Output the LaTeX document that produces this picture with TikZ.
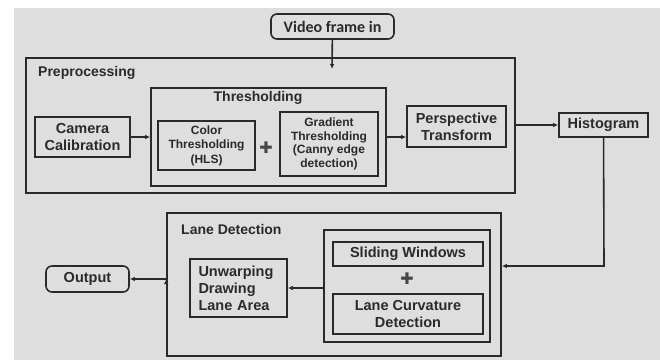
\documentclass[tikz,border=0pt]{standalone}
\usepackage{fontspec}
\setmainfont{Liberation Sans}
\newfontfamily\calfont{Carlito}
\newfontfamily\symfont{DejaVu Sans}
\usetikzlibrary{positioning, arrows.meta}
\definecolor{bggray}{HTML}{DEDEDE}
\definecolor{linegray}{HTML}{2A2A2A}

\begin{document}
\begin{tikzpicture}[x=1pt, y=-1pt, >={Latex[length=5pt,width=4.5pt]},
  box/.style={draw=linegray, line width=1.6pt, fill=bggray, inner sep=2pt, align=center, text=linegray},
  big/.style={font=\bfseries\fontsize{14.5}{17}\selectfont},
  small/.style={font=\bfseries\fontsize{12}{14.5}\selectfont},
  term/.style={box, rounded corners=6pt},
  title/.style={text=linegray, font=\bfseries\fontsize{14}{16}\selectfont, inner sep=0pt},
  plus/.style={text=gray!55!black, font=\symfont\fontsize{16}{16}\selectfont, inner sep=0pt},
  arr/.style={->, draw=linegray, line width=1.6pt}]

	\useasboundingbox (0,0) rectangle (660,360);
	\fill[white] (0,0) rectangle (660,360);
	\fill[bggray] (14,8) rectangle (660,360);

	% outer groups
	\node[box, minimum width=489pt, minimum height=135pt] (prep) at (270.5,125.5) {};
	\node[title, anchor=west] (preplabel) at (38,73) {Preprocessing};
	\node[box, minimum width=235pt, minimum height=98pt] (thr) at (268.5,137) {};
	\node[title] (thrlabel) at (258,98) {Thresholding};
	\node[box, minimum width=334pt, minimum height=143pt] (lane) at (334,284.5) {};
	\node[title, anchor=west] (lanelabel) at (181,229) {Lane Detection};
	\node[box, minimum width=166pt, minimum height=112pt] (group) at (407,286) {};

	% blocks
	\node[term, minimum width=123pt, minimum height=25pt, font=\calfont\bfseries\fontsize{16}{17}\selectfont] (video) at (332.5,26.5) {Video frame in};
	\node[box, big, minimum width=95pt, minimum height=40pt] (cam) at (82.5,137) {Camera\\Calibration};
	\node[box, small, minimum width=97pt, minimum height=49pt] (color) at (206.5,145.5) {Color\\Thresholding\\(HLS)};
	\node[plus] (plusa) at (266,148) {✚};
	\node[box, minimum width=98pt, minimum height=64pt, font=\bfseries\fontsize{12}{13.7}\selectfont] (grad) at (329,144) {Gradient\\Thresholding\\(Canny edge\\detection)};
	\node[box, big, minimum width=99pt, minimum height=41pt] (persp) at (456.5,126.5) {Perspective\\Transform};
	\node[box, big, minimum width=89pt, minimum height=24pt] (hist) at (603.5,125) {Histogram};
	\node[box, big, minimum width=150pt, minimum height=24pt] (slide) at (408,254) {Sliding Windows};
	\node[plus] (plusb) at (407,279) {✚};
	\node[box, big, minimum width=150pt, minimum height=40pt] (curv) at (408,314) {Lane Curvature\\Detection};
	\node[box, big, minimum width=97pt, minimum height=58pt, align=left, text width=80pt] (unwarp) at (238.5,288) {Unwarping\\Drawing\\Lane Area};
	\node[term, big, minimum width=83pt, minimum height=26pt] (out) at (87.5,279) {Output};

	\coordinate (vin) at (332,69);
	\coordinate (turn) at (604,266);

	\path[arr]
	(video) edge (vin)
	(cam) edge (thr)
	(thr.east) edge (thr.east -| persp.west)
	(prep.east |- hist) edge (hist)
	(group.west |- unwarp) edge (unwarp)
	(lane.west |- out) edge (out);
	\draw[arr] (hist) -- (turn) -- (turn -| lane.east);
\end{tikzpicture}
\end{document}
